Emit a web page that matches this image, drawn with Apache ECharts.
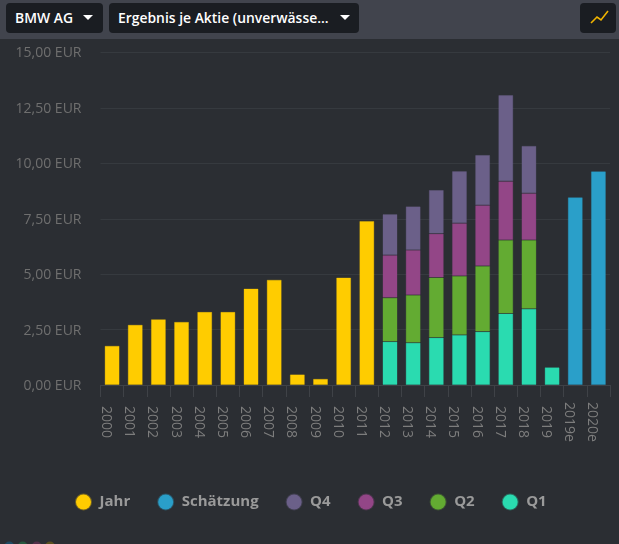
<!DOCTYPE html>
<html><head><meta charset="utf-8">
<style>
html,body{margin:0;padding:0;background:#2b2e33;width:619px;height:544px;overflow:hidden;font-family:"Open Sans",sans-serif}
#bar{position:absolute;left:0;top:0;width:619px;height:39px;background:#41444d}
.btn{position:absolute;top:3px;height:30px;background:#1a1d22;border-radius:4px;color:#fff;font-size:13.9px;font-weight:600;line-height:30px;white-space:nowrap;box-sizing:border-box}
.tri{position:absolute;top:12px;width:0;height:0;border-left:5px solid transparent;border-right:5px solid transparent;border-top:5px solid #fff}
#chart{position:absolute;left:0;top:0;width:619px;height:544px}
</style></head><body>
<div id="chart"></div>
<div id="bar"></div>
<div class="btn" style="left:6px;width:97px;padding-left:9px">BMW AG<span class="tri" style="left:77px"></span></div>
<div class="btn" style="left:109px;width:250px;padding-left:9px">Ergebnis je Aktie (unverwässe...<span class="tri" style="left:231px"></span></div>
<div class="btn" style="left:580px;width:36px"><svg width="36" height="30" style="position:absolute;left:0;top:0"><polyline points="11,20 17,14 21,17 28,8" fill="none" stroke="#f0b400" stroke-width="1.6"/></svg></div>
<script src="https://cdn.jsdelivr.net/npm/echarts@6/dist/echarts.min.js"></script>
<script>
const categories=["2000","2001","2002","2003","2004","2005","2006","2007","2008","2009","2010","2011","2012","2013","2014","2015","2016","2017","2018","2019","2019e","2020e"];
const jahr=[1.77,2.72,2.97,2.85,3.3,3.3,4.35,4.75,0.48,0.28,4.85,7.4,null,null,null,null,null,null,null,null,null,null];
const schaetzung=[null,null,null,null,null,null,null,null,null,null,null,null,null,null,null,null,null,null,null,null,8.47,9.64];
const q4=[null,null,null,null,null,null,null,null,null,null,null,null,1.85,1.97,1.97,2.35,2.27,3.89,2.14,null,null,null];
const q3=[null,null,null,null,null,null,null,null,null,null,null,null,1.92,2.03,1.98,2.38,2.74,2.65,2.11,null,null,null];
const q2=[null,null,null,null,null,null,null,null,null,null,null,null,1.98,2.15,2.71,2.66,2.96,3.32,3.10,null,null,null];
const q1=[null,null,null,null,null,null,null,null,null,null,null,null,1.96,1.91,2.14,2.26,2.41,3.22,3.44,0.80,null,null];
const names=["Jahr","Schätzung","Q4","Q3","Q2","Q1"];
const colors=["#ffcc00","#2a9fc9","#6b6089","#934687","#63ab32","#2adbb0"];
const stackOrder=[[q1,5],[q2,4],[q3,3],[q4,2],[schaetzung,1],[jahr,0]];
const series=stackOrder.map(([d,i])=>({name:names[i],type:'bar',stack:'a',data:d,barWidth:15,
 itemStyle:{color:colors[i],borderColor:colors[i]+'55',borderWidth:1}}));
const chart=echarts.init(document.getElementById('chart'),null,{renderer:'canvas'});
chart.setOption({
 animation:false,backgroundColor:'#2b2e33',color:colors,
 grid:{left:100.5,right:9,top:52.5,bottom:159,containLabel:false},
 legend:{data:names,left:75,top:493.5,padding:0,icon:'circle',itemWidth:15,itemHeight:15,itemGap:27,selectedMode:false,
  textStyle:{color:'#9a9a9a',fontFamily:'Open Sans',fontSize:15,fontWeight:'bold',padding:[0,0,0,3.5]}},
 xAxis:{type:'category',data:categories,
  axisLine:{lineStyle:{color:'#3f4247'}},
  axisTick:{show:true,length:12,lineStyle:{color:'#3f4247'}},
  axisLabel:{rotate:-90,align:'center',verticalAlign:'top',lineHeight:12,color:'#7d7d7d',fontFamily:'Open Sans',fontSize:14,margin:37,interval:0}},
 yAxis:{type:'value',min:0,max:15,interval:2.5,
  axisLine:{show:false},axisTick:{show:false},
  splitLine:{lineStyle:{color:'#363a3f',width:1}},
  axisLabel:{color:'#6f6f6f',fontFamily:'Open Sans',fontSize:14,margin:19,verticalAlign:'top',lineHeight:2,
   formatter:v=>v.toFixed(2).replace('.',',')+' EUR'}},
 series:series,
 graphic:[9.3,22.7,36.7,50].map((x,i)=>({type:'circle',shape:{cx:x,cy:546.5,r:5},style:{fill:['#1f4a63','#27583f','#52304a','#5a5020'][i]}}))
});
</script></body></html>
